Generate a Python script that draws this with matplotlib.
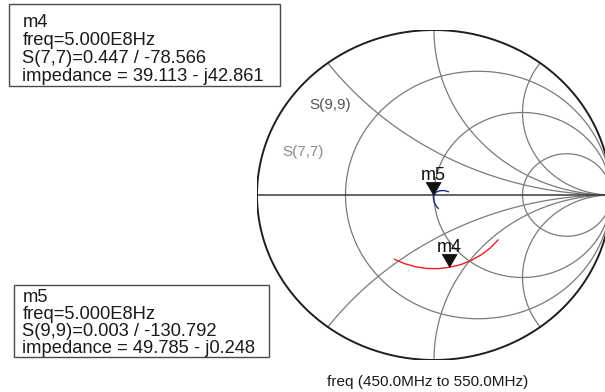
import numpy as np
import matplotlib
matplotlib.use("Agg")
import matplotlib.pyplot as plt
from matplotlib.patches import Rectangle, Polygon

plt.rcParams['font.family'] = ['Liberation Sans', 'DejaVu Sans']

# ---- data -------------------------------------------------------------
freq_mhz = [450, 460, 470, 480, 490, 500, 510, 520, 530, 540, 550]

# S(7,7): magnitude / phase (deg)
s77_mag = [0.449, 0.448, 0.447, 0.447, 0.447, 0.447, 0.448, 0.449, 0.450, 0.452, 0.453]
s77_phase = [-119.7, -111.5, -103.3, -95.0, -86.8, -78.566, -70.3, -62.0, -53.7, -45.4, -37.0]

# S(9,9): small hook near the chart centre (real / imag)
s99_re = [0.081, 0.058, 0.034, 0.015, 0.006, -0.002, -0.004, 0.000, 0.008, 0.015, 0.024]
s99_im = [0.020, 0.027, 0.026, 0.019, 0.010, -0.002, -0.010, -0.041, -0.058, -0.071, -0.081]

# markers
m4_freq, m4_mag, m4_phase = 5.000e8, 0.447, -78.566
m4_z = (39.113, -42.861)
m5_freq, m5_mag, m5_phase = 5.000e8, 0.003, -130.792
m5_z = (49.785, -0.248)

# Smith chart grid
r_grid = [1/3, 1.0, 3.0]
x_grid = [0.5, 1.0, 2.0]

# ---- figure -------------------------------------------------------------
W, H = 605, 392
fig = plt.figure(figsize=(W / 100, H / 100), dpi=100)


def fx(px):
    return px / W


def fy(py):
    return 1 - py / H


# Smith chart axes (slightly elliptical, cut at right edge)
cx, cy, rx, ry = 434, 195, 177, 165
ax = fig.add_axes([fx(cx - rx), fy(cy + ry), 2 * rx / W, 2 * ry / H])
ax.set_xlim(-1, 1)
ax.set_ylim(-1, 1)
ax.axis('off')

grid_col = '#7a7a7a'


def gamma(z):
    return (z - 1) / (z + 1)


t = np.linspace(0, 2 * np.pi, 600)
for r in r_grid:
    c = r / (1 + r)
    rad = 1 / (1 + r)
    ax.plot(c + rad * np.cos(t), rad * np.sin(t), color=grid_col, lw=0.9)

rr = np.concatenate([np.linspace(0, 5, 400), np.logspace(np.log10(5), 4, 400)])
for xv in x_grid:
    for s in (1, -1):
        g = gamma(rr + 1j * s * xv)
        ax.plot(g.real, g.imag, color=grid_col, lw=0.9)

ax.plot([-1, 1], [0, 0], color='#3a3a3a', lw=1.1)
ax.plot(np.cos(t), np.sin(t), color='#1e1e1e', lw=1.4)

# traces
g77 = np.array(s77_mag) * np.exp(1j * np.deg2rad(s77_phase))
ax.plot(g77.real, g77.imag, color='#ee1c24', lw=1.0)
ax.plot(s99_re, s99_im, color='#1b2a8e', lw=1.0)

ax.text(-0.585, 0.545, 'S(9,9)', color='#555555', fontsize=11, ha='center', va='center')
ax.text(-0.74, 0.26, 'S(7,7)', color='#8a8a8a', fontsize=11, ha='center', va='center')


# marker triangles (tip on the data point)
def marker(name, mag, ph):
    g = mag * np.exp(1j * np.deg2rad(ph))
    px = cx + g.real * rx
    py = cy - g.imag * ry
    tri = Polygon([(fx(px - 7.5), fy(py - 13)), (fx(px + 7.5), fy(py - 13)), (fx(px), fy(py))],
                  closed=True, transform=fig.transFigure, facecolor='#111111',
                  edgecolor='#111111', lw=0.5)
    fig.patches.append(tri)
    fig.text(fx(px), fy(py - 15), name, fontsize=13, ha='center', va='baseline', color='#111111')


marker('m5', m5_mag, m5_phase)
marker('m4', m4_mag, m4_phase)


# marker readout boxes
def readout(x0, y0, x1, y1, tx, base, step, lines):
    fig.patches.append(Rectangle((fx(x0), fy(y1)), fx(x1) - fx(x0), fy(y0) - fy(y1),
                                 transform=fig.transFigure, fill=False,
                                 edgecolor='#4a4a4a', lw=1.0))
    for i, s in enumerate(lines):
        fig.text(fx(tx), fy(base + i * step), s, fontsize=13.2, ha='left',
                 va='baseline', color='#1a1a1a')


readout(9, 4, 280, 86, 22.5, 27.3, 18.0, [
    'm4',
    f'freq={m4_freq:.3E}Hz'.replace('E+0', 'E'),
    f'S(7,7)={m4_mag:.3f} / {m4_phase:.3f}',
    f'impedance = {m4_z[0]:.3f} - j{abs(m4_z[1]):.3f}',
])
readout(14, 285, 269, 357, 22.5, 302, 16.9, [
    'm5',
    f'freq={m5_freq:.3E}Hz'.replace('E+0', 'E'),
    f'S(9,9)={m5_mag:.3f} / {m5_phase:.3f}',
    f'impedance = {m5_z[0]:.3f} - j{abs(m5_z[1]):.3f}',
])

fig.text(fx(428), fy(382), f'freq ({freq_mhz[0]:.1f}MHz to {freq_mhz[-1]:.1f}MHz)',
         fontsize=11, ha='center', va='center', color='#1a1a1a')

fig.savefig('out.png', dpi=100)
